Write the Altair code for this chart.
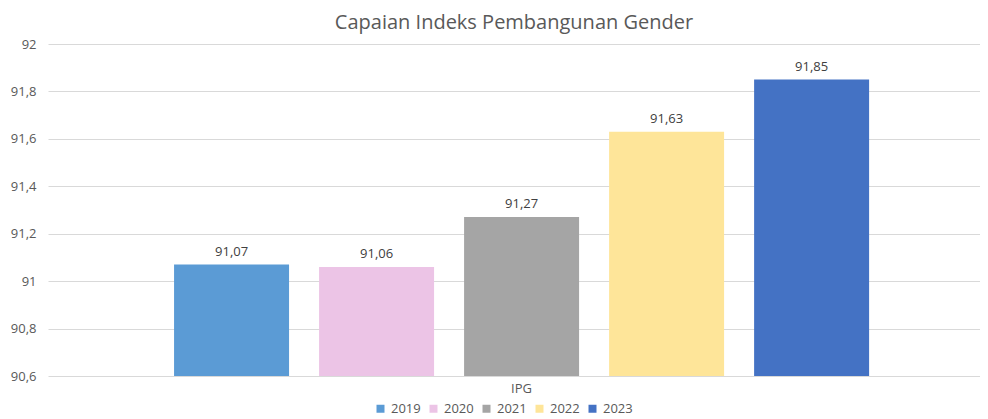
import altair as alt
import pandas as pd

years = ["2019", "2020", "2021", "2022", "2023"]
values = [91.07, 91.06, 91.27, 91.63, 91.85]
category = "IPG"
colors = ["#5B9BD5", "#ECC4E6", "#A5A5A5", "#FEE599", "#4472C4"]

df = pd.DataFrame({"year": years, "val": values})
df["label"] = [f"{v:.2f}".replace(".", ",") for v in values]

FONT = "Open Sans"

base = alt.Chart(df).encode(
    x=alt.X("year:N", title=category,
            scale=alt.Scale(paddingInner=0.207, paddingOuter=0.817, align=0.532),
            axis=alt.Axis(labels=False, ticks=False, domain=False,
                          titleX=473, titlePadding=6, titleFontWeight="normal",
                          titleFontSize=13, titleColor="#595959", titleFont=FONT)),
)

bars = base.mark_bar().encode(
    y=alt.Y("val:Q", title=None,
            scale=alt.Scale(domain=[90.6, 92], nice=False, zero=False),
            axis=alt.Axis(values=[90.6, 90.8, 91.0, 91.2, 91.4, 91.6, 91.8, 92.0],
                          labelExpr="replace(format(datum.value, '~g'), '.', ',')",
                          ticks=False, domain=False, labelPadding=12,
                          gridColor="#D9D9D9", gridWidth=1,
                          labelFontSize=13, labelColor="#595959", labelFont=FONT)),
    y2=alt.datum(90.6),
    color=alt.Color("year:N", title=None,
                    scale=alt.Scale(domain=years, range=colors),
                    legend=alt.Legend(orient="none", direction="horizontal",
                                      legendX=326, legendY=358,
                                      symbolType="square", symbolSize=64,
                                      symbolStrokeWidth=0, columnPadding=6,
                                      labelOffset=4,
                                      labelFontSize=13, labelColor="#595959",
                                      labelFont=FONT)),
)

texts = base.mark_text(baseline="bottom", dy=-6, fontSize=13, color="#404040", font=FONT).encode(
    y=alt.Y("val:Q"),
    text="label:N",
)

chart = (bars + texts).properties(
    width=932, height=332,
    autosize=alt.AutoSizeParams(type="none"),
    padding={"left": 40, "top": 36, "right": 0, "bottom": 43},
    title=alt.TitleParams("Capaian Indeks Pembangunan Gender", fontSize=20,
                          font=FONT, fontWeight="normal", color="#595959",
                          anchor="middle", offset=5),
).configure_view(stroke=None)

chart.save("out.html", embed_options={"renderer": "svg", "actions": False})
